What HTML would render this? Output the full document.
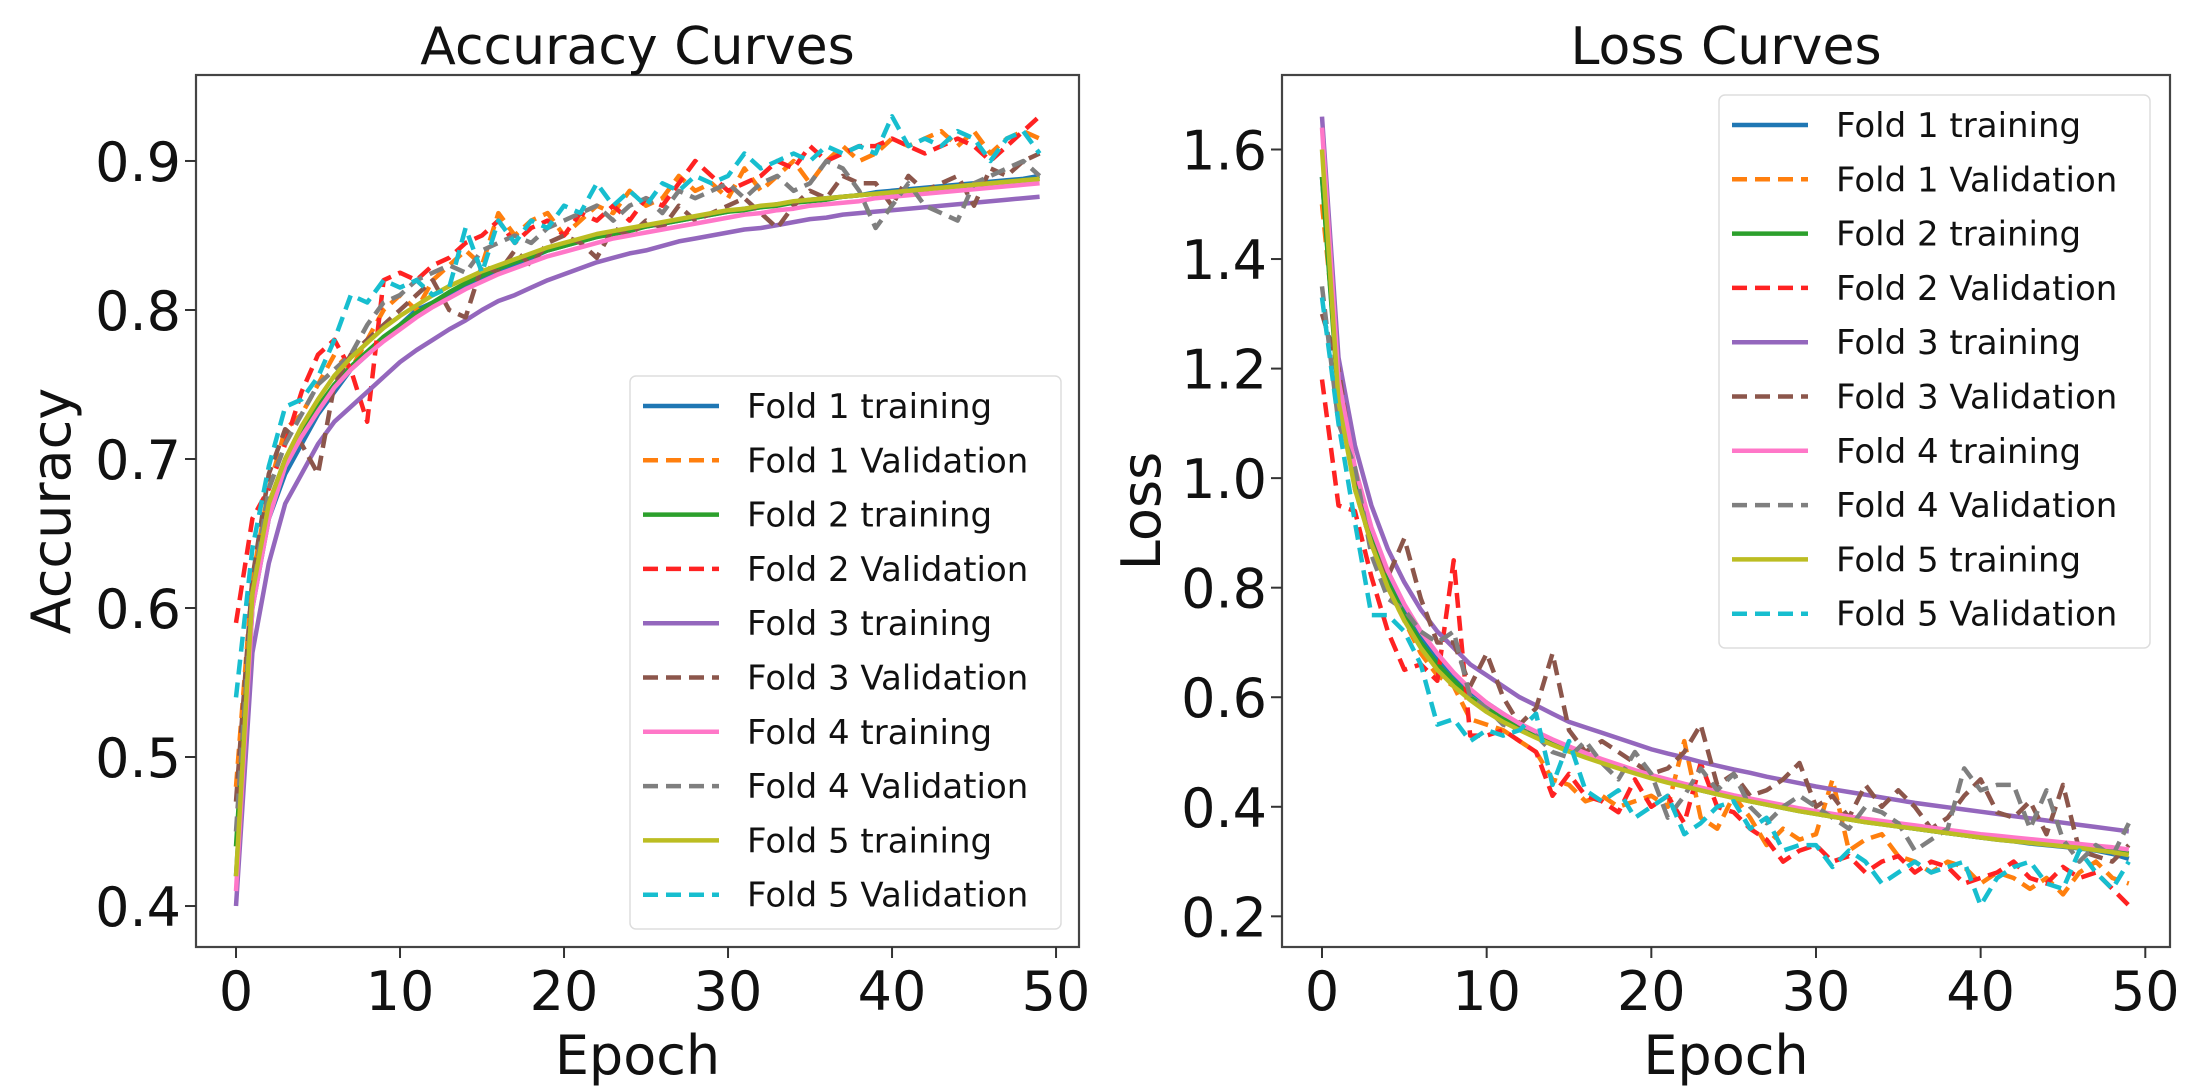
<!DOCTYPE html>
<html><head><meta charset="utf-8"><style>
html,body{margin:0;padding:0;background:#fff}
svg{display:block;font-family:"DejaVu Sans","Liberation Sans",sans-serif}
</style></head><body>
<svg id="fig" width="2194" height="1092" viewBox="0 0 2194 1092" xmlns="http://www.w3.org/2000/svg"></svg>
<script>
const epochs = Array.from({length:50},(_,i)=>i);
const seriesNames = ["Fold 1 training","Fold 1 Validation","Fold 2 training","Fold 2 Validation","Fold 3 training","Fold 3 Validation","Fold 4 training","Fold 4 Validation","Fold 5 training","Fold 5 Validation"];
const accXTicks = [0,10,20,30,40,50];
const accYTicks = [0.4,0.5,0.6,0.7,0.8,0.9];
const lossYTicks = [0.2,0.4,0.6,0.8,1.0,1.2,1.4,1.6];

const acc1t=[0.42,0.6,0.66,0.69,0.71,0.73,0.745,0.76,0.77,0.78,0.79,0.8,0.805,0.81,0.815,0.82,0.825,0.83,0.835,0.84,0.843,0.846,0.849,0.852,0.854,0.856,0.858,0.86,0.862,0.864,0.866,0.868,0.869,0.871,0.872,0.874,0.875,0.876,0.877,0.879,0.88,0.881,0.882,0.883,0.884,0.885,0.886,0.887,0.888,0.89];
const acc1v=[0.48,0.62,0.68,0.72,0.73,0.75,0.77,0.76,0.78,0.8,0.81,0.8,0.82,0.83,0.84,0.83,0.865,0.85,0.86,0.865,0.85,0.86,0.87,0.865,0.88,0.87,0.875,0.89,0.88,0.885,0.875,0.895,0.88,0.89,0.9,0.885,0.9,0.91,0.9,0.905,0.915,0.91,0.915,0.92,0.91,0.92,0.905,0.915,0.92,0.915];
const acc2t=[0.44,0.61,0.67,0.7,0.72,0.735,0.75,0.762,0.772,0.782,0.79,0.798,0.805,0.812,0.818,0.823,0.828,0.832,0.836,0.84,0.843,0.846,0.849,0.851,0.853,0.856,0.858,0.86,0.862,0.864,0.866,0.867,0.869,0.87,0.872,0.873,0.874,0.876,0.877,0.878,0.879,0.88,0.881,0.882,0.883,0.884,0.885,0.886,0.887,0.888];
const acc2v=[0.59,0.66,0.68,0.71,0.745,0.77,0.78,0.76,0.725,0.82,0.825,0.82,0.83,0.835,0.845,0.85,0.86,0.845,0.855,0.86,0.85,0.865,0.86,0.87,0.86,0.875,0.87,0.885,0.9,0.89,0.88,0.885,0.89,0.9,0.895,0.91,0.9,0.905,0.91,0.91,0.915,0.91,0.905,0.91,0.915,0.91,0.9,0.91,0.92,0.93];
const acc3t=[0.4,0.57,0.63,0.67,0.69,0.71,0.725,0.735,0.745,0.755,0.765,0.773,0.78,0.787,0.793,0.8,0.806,0.81,0.815,0.82,0.824,0.828,0.832,0.835,0.838,0.84,0.843,0.846,0.848,0.85,0.852,0.854,0.855,0.857,0.859,0.861,0.862,0.864,0.865,0.866,0.867,0.868,0.869,0.87,0.871,0.872,0.873,0.874,0.875,0.876];
const acc3v=[0.47,0.62,0.69,0.72,0.71,0.69,0.75,0.77,0.78,0.79,0.8,0.81,0.82,0.8,0.795,0.83,0.825,0.84,0.83,0.845,0.85,0.845,0.835,0.855,0.85,0.86,0.855,0.87,0.86,0.865,0.87,0.875,0.865,0.855,0.87,0.88,0.875,0.89,0.885,0.885,0.87,0.89,0.88,0.885,0.89,0.87,0.895,0.89,0.9,0.905];
const acc4t=[0.41,0.6,0.66,0.695,0.715,0.732,0.748,0.76,0.77,0.779,0.787,0.795,0.802,0.808,0.814,0.819,0.824,0.828,0.832,0.836,0.839,0.842,0.845,0.848,0.85,0.852,0.854,0.856,0.858,0.86,0.862,0.864,0.865,0.867,0.868,0.87,0.871,0.872,0.873,0.875,0.876,0.877,0.878,0.879,0.88,0.881,0.882,0.883,0.884,0.885];
const acc4v=[0.45,0.61,0.68,0.71,0.73,0.75,0.76,0.77,0.79,0.805,0.81,0.82,0.825,0.83,0.825,0.84,0.845,0.85,0.845,0.855,0.86,0.865,0.87,0.86,0.87,0.875,0.865,0.88,0.875,0.88,0.885,0.875,0.885,0.89,0.88,0.885,0.9,0.895,0.88,0.855,0.87,0.885,0.87,0.865,0.86,0.885,0.89,0.895,0.9,0.89];
const acc5t=[0.42,0.61,0.67,0.7,0.722,0.74,0.756,0.768,0.778,0.788,0.796,0.803,0.81,0.816,0.821,0.826,0.83,0.834,0.838,0.842,0.845,0.848,0.851,0.853,0.855,0.857,0.859,0.861,0.863,0.865,0.867,0.868,0.87,0.871,0.873,0.874,0.875,0.876,0.877,0.878,0.879,0.88,0.881,0.882,0.883,0.884,0.885,0.886,0.887,0.888];
const acc5v=[0.54,0.64,0.695,0.735,0.74,0.755,0.78,0.81,0.805,0.82,0.815,0.82,0.81,0.815,0.855,0.825,0.86,0.845,0.86,0.855,0.87,0.865,0.885,0.87,0.88,0.87,0.885,0.88,0.89,0.885,0.89,0.905,0.895,0.9,0.905,0.9,0.91,0.905,0.91,0.905,0.93,0.91,0.915,0.91,0.92,0.915,0.9,0.915,0.92,0.905];

const loss1t=[1.55,1.15,1.0,0.9,0.82,0.76,0.71,0.67,0.64,0.61,0.59,0.57,0.55,0.535,0.52,0.51,0.495,0.485,0.475,0.465,0.455,0.447,0.44,0.432,0.425,0.418,0.412,0.405,0.4,0.394,0.388,0.383,0.378,0.373,0.369,0.365,0.36,0.356,0.352,0.348,0.344,0.34,0.337,0.333,0.33,0.327,0.324,0.32,0.314,0.305];
const loss1v=[1.5,1.2,0.98,0.88,0.8,0.74,0.68,0.64,0.62,0.56,0.55,0.54,0.52,0.5,0.45,0.44,0.41,0.42,0.4,0.41,0.42,0.4,0.52,0.38,0.36,0.42,0.38,0.33,0.36,0.34,0.35,0.45,0.32,0.34,0.35,0.31,0.3,0.28,0.3,0.29,0.26,0.28,0.27,0.25,0.27,0.24,0.28,0.3,0.27,0.26];
const loss2t=[1.55,1.14,0.99,0.89,0.81,0.75,0.7,0.66,0.63,0.6,0.58,0.56,0.545,0.53,0.515,0.505,0.492,0.482,0.472,0.462,0.453,0.445,0.438,0.43,0.423,0.417,0.41,0.404,0.398,0.392,0.387,0.382,0.377,0.372,0.368,0.364,0.36,0.356,0.352,0.348,0.344,0.341,0.338,0.335,0.332,0.329,0.326,0.323,0.319,0.315];
const loss2v=[1.18,0.95,0.94,0.82,0.72,0.65,0.66,0.63,0.85,0.53,0.53,0.54,0.52,0.5,0.42,0.46,0.42,0.41,0.39,0.45,0.4,0.42,0.37,0.48,0.4,0.39,0.36,0.34,0.3,0.32,0.33,0.3,0.31,0.28,0.3,0.31,0.28,0.3,0.29,0.26,0.27,0.28,0.3,0.27,0.26,0.29,0.27,0.28,0.25,0.22];
const loss3t=[1.66,1.22,1.06,0.95,0.87,0.81,0.76,0.72,0.69,0.66,0.64,0.62,0.6,0.585,0.57,0.555,0.545,0.535,0.525,0.515,0.505,0.497,0.49,0.482,0.475,0.468,0.462,0.455,0.449,0.443,0.437,0.432,0.427,0.422,0.417,0.412,0.407,0.403,0.399,0.395,0.391,0.387,0.383,0.379,0.375,0.371,0.367,0.363,0.359,0.355];
const loss3v=[1.3,1.2,1.0,0.88,0.82,0.89,0.78,0.7,0.7,0.62,0.68,0.6,0.55,0.58,0.68,0.54,0.5,0.52,0.5,0.48,0.46,0.47,0.5,0.55,0.44,0.46,0.42,0.43,0.45,0.48,0.4,0.42,0.38,0.44,0.4,0.43,0.4,0.36,0.38,0.42,0.45,0.39,0.38,0.41,0.35,0.44,0.32,0.31,0.3,0.33];
const loss4t=[1.64,1.18,1.02,0.91,0.83,0.77,0.72,0.68,0.645,0.615,0.59,0.57,0.552,0.537,0.523,0.51,0.498,0.487,0.477,0.467,0.458,0.45,0.442,0.435,0.428,0.421,0.415,0.409,0.403,0.397,0.392,0.387,0.382,0.378,0.374,0.37,0.366,0.362,0.358,0.354,0.35,0.347,0.344,0.341,0.338,0.335,0.332,0.329,0.326,0.322];
const loss4v=[1.35,1.1,1.02,0.86,0.78,0.76,0.72,0.7,0.72,0.6,0.58,0.55,0.54,0.53,0.5,0.49,0.52,0.48,0.45,0.5,0.46,0.38,0.42,0.47,0.43,0.46,0.4,0.37,0.4,0.42,0.4,0.38,0.36,0.4,0.39,0.37,0.32,0.34,0.36,0.47,0.43,0.44,0.44,0.36,0.43,0.34,0.3,0.33,0.31,0.37];
const loss5t=[1.6,1.14,0.98,0.88,0.8,0.74,0.69,0.65,0.62,0.595,0.573,0.555,0.54,0.526,0.513,0.501,0.49,0.48,0.47,0.461,0.452,0.444,0.437,0.43,0.423,0.416,0.41,0.404,0.398,0.392,0.387,0.382,0.377,0.372,0.368,0.364,0.36,0.356,0.352,0.348,0.344,0.34,0.337,0.334,0.331,0.328,0.325,0.321,0.317,0.312];
const loss5v=[1.33,1.1,0.92,0.75,0.75,0.72,0.66,0.55,0.56,0.52,0.54,0.53,0.54,0.57,0.44,0.52,0.43,0.41,0.43,0.38,0.4,0.42,0.35,0.37,0.4,0.41,0.36,0.38,0.32,0.33,0.33,0.29,0.32,0.3,0.26,0.28,0.3,0.28,0.29,0.3,0.22,0.27,0.29,0.3,0.26,0.25,0.32,0.28,0.25,0.3];

const accSeries=[acc1t,acc1v,acc2t,acc2v,acc3t,acc3v,acc4t,acc4v,acc5t,acc5v];
const lossSeries=[loss1t,loss1v,loss2t,loss2v,loss3t,loss3v,loss4t,loss4v,loss5t,loss5v];
const colors=["#1f77b4","#ff7f0e","#2ca02c","#ff2222","#9467bd","#8c564b","#ff77c8","#7f7f7f","#bcbd22","#17becf"];

const NS="http://www.w3.org/2000/svg";
const svg=document.getElementById('fig');
function mk(tag,attrs,parent){const e=document.createElementNS(NS,tag);for(const k in attrs)e.setAttribute(k,attrs[k]);(parent||svg).appendChild(e);return e;}

function drawPanel(cfg){
  const g=mk('g',{});
  
  
  const X=v=>cfg.x0+(v-cfg.xmin)/(cfg.xmax-cfg.xmin)*(cfg.x1-cfg.x0);
  const Y=v=>cfg.y1-(v-cfg.ymin)/(cfg.ymax-cfg.ymin)*(cfg.y1-cfg.y0);
  cfg.series.forEach((arr,i)=>{
    const d=arr.map((v,j)=>(j?'L':'M')+X(epochs[j]).toFixed(1)+' '+Y(v).toFixed(1)).join(' ');
    const p=mk('path',{d:d,fill:'none',stroke:colors[i],'stroke-width':4.5,'stroke-linejoin':'round','stroke-dasharray':i%2?'15 8':'none'},g);
    
    
  });
  const fr=mk('rect',{x:cfg.x0,y:cfg.y0,width:cfg.x1-cfg.x0,height:cfg.y1-cfg.y0,fill:'none',stroke:'#444','stroke-width':2.2},g);
  
  
  accXTicks.forEach(t=>{
    mk('line',{x1:X(t),x2:X(t),y1:cfg.y1,y2:cfg.y1+11,stroke:'#333','stroke-width':2},g);
    const tx=mk('text',{x:X(t),y:cfg.y1+63,'font-size':54,'text-anchor':'middle',fill:'#111'},g);
    tx.textContent=t;
    
    
  });
  cfg.yTicks.forEach(t=>{
    mk('line',{x1:cfg.x0-11,x2:cfg.x0,y1:Y(t),y2:Y(t),stroke:'#333','stroke-width':2},g);
    const tx=mk('text',{x:cfg.x0-15,y:Y(t)+20,'font-size':54,'text-anchor':'end',fill:'#111'},g);
    tx.textContent=t.toFixed(1);
    
    
  });
  const ti=mk('text',{x:(cfg.x0+cfg.x1)/2,y:64,'font-size':52,'text-anchor':'middle',fill:'#111'},g);
  ti.textContent=cfg.title;
  
  
  const xl=mk('text',{x:(cfg.x0+cfg.x1)/2,y:1074,'font-size':54,'text-anchor':'middle',fill:'#111'},g);
  xl.textContent='Epoch';
  
  
  const yl=mk('text',{x:0,y:0,'font-size':54,'text-anchor':'middle',fill:'#111',transform:`translate(${cfg.ylx},${(cfg.y0+cfg.y1)/2}) rotate(-90)`},g);
  yl.textContent=cfg.ylabel;
  
  
  const lg=mk('g',{},g);
  
  
  mk('rect',{x:cfg.lx,y:cfg.ly,width:431,height:553,rx:6,fill:'#fff','fill-opacity':0.85,stroke:'#ddd','stroke-width':1.5},lg);
  seriesNames.forEach((n,i)=>{
    const yy=cfg.ly+30+i*54.3;
    const e=mk('g',{},lg);
    
    
    mk('line',{x1:cfg.lx+13,x2:cfg.lx+89,y1:yy,y2:yy,stroke:colors[i],'stroke-width':4.5,'stroke-dasharray':i%2?'15 8':'none'},e);
    const t=mk('text',{x:cfg.lx+117,y:yy+12,'font-size':34,fill:'#111'},e);
    t.textContent=n;
  });
}
drawPanel({name:'accuracy-chart',title:'Accuracy Curves',ylabel:'Accuracy',x0:196,x1:1079,y0:75,y1:947,xmin:-2.44,xmax:51.4,ymin:0.3725,ymax:0.9577,yTicks:accYTicks,series:accSeries,ylx:70,lx:630,ly:376});
drawPanel({name:'loss-chart',title:'Loss Curves',ylabel:'Loss',x0:1282,x1:2170,y0:75,y1:947,xmin:-2.43,xmax:51.5,ymin:0.144,ymax:1.736,yTicks:lossYTicks,series:lossSeries,ylx:1160,lx:1719,ly:95});
</script>
</body></html>
